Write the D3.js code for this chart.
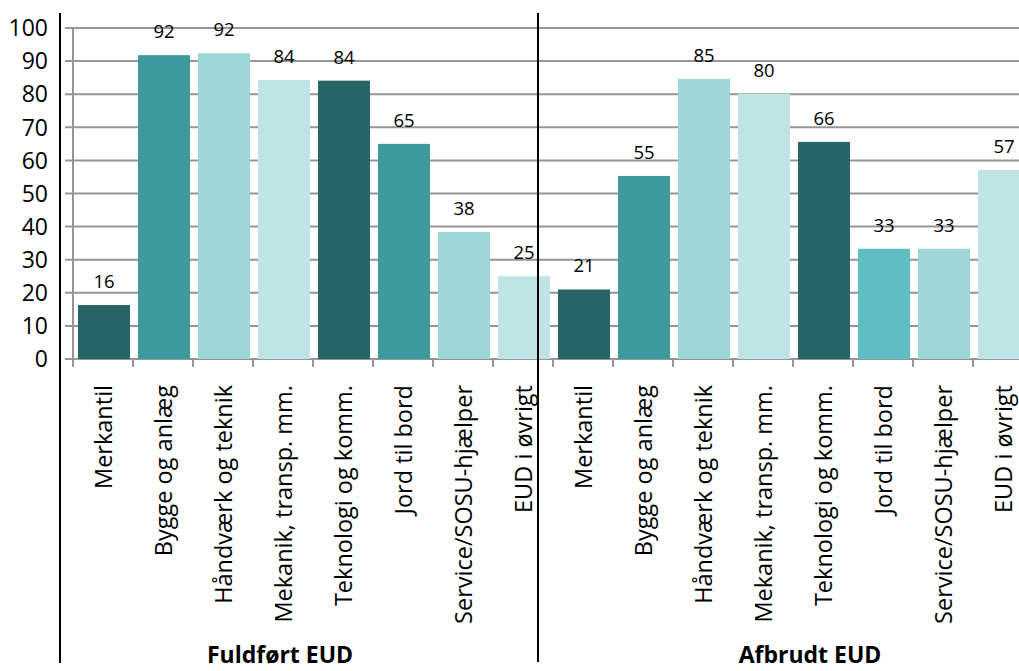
<!DOCTYPE html>
<html><head><meta charset="utf-8">
<script src="https://cdn.jsdelivr.net/npm/d3@7"></script>
<style>html,body{margin:0;padding:0;background:#fff;}svg{display:block;}</style>
</head><body>
<svg id="chart" width="1019" height="671"></svg>
<script>
const categories = ["Merkantil","Bygge og anlæg","Håndværk og teknik","Mekanik, transp. mm.","Teknologi og komm.","Jord til bord","Service/SOSU-hjælper","EUD i øvrigt"];
const groups = ["Fuldført EUD","Afbrudt EUD"];
const fuldfort = [16.3, 91.8, 92.4, 84.3, 84.1, 65.0, 38.4, 25.0];
const afbrudt  = [21.0, 55.3, 84.6, 80.1, 65.6, 33.3, 33.3, 57.1];
const yTicks = [0,10,20,30,40,50,60,70,80,90,100];

const colorsF = ["#286568","#3c999c","#9fd7d9","#bee4e5","#286568","#3c999c","#9fd7d9","#bee4e5"];
const colorsA = ["#286568","#3c999c","#9fd7d9","#bee4e5","#286568","#5fbdc4","#9fd7d9","#bee4e5"];

const data = [];
categories.forEach((c,i)=>data.push({key:"F"+i, cat:c, v:fuldfort[i], color:colorsF[i]}));
categories.forEach((c,i)=>data.push({key:"A"+i, cat:c, v:afbrudt[i], color:colorsA[i]}));

const svg = d3.select("#chart");
const x = d3.scaleBand().domain(data.map(d=>d.key)).range([73,1033]).paddingInner(8/60).paddingOuter(4/60);
const y = d3.scaleLinear().domain([0,100]).range([359,28]);

// gridlines
svg.append("g").selectAll("line").data(yTicks).join("line")
  .attr("x1",65).attr("x2",1019)
  .attr("y1",d=>y(d)).attr("y2",d=>y(d))
  .attr("stroke","#959595").attr("stroke-width",2);

// y labels
svg.append("g").selectAll("text").data(yTicks).join("text")
  .attr("x",48).attr("y",d=>y(d)).attr("dy","0.36em")
  .attr("text-anchor","end")
  .attr("font-family","Open Sans, sans-serif").attr("font-size",23).attr("fill","#000")
  .text(d=>d);

// bars
svg.append("g").selectAll("rect").data(data).join("rect")
  .attr("x",d=>x(d.key)+1).attr("width",x.bandwidth())
  .attr("y",d=>y(d.v)).attr("height",d=>y(0)-y(d.v))
  .attr("fill",d=>d.color);

// plot left axis line (grey)
svg.append("line").attr("x1",73).attr("x2",73).attr("y1",y(100)).attr("y2",367)
  .attr("stroke","#959595").attr("stroke-width",2);

// x tick marks at band boundaries
const bounds = data.map(d=>x(d.key) - x.step()*x.paddingInner()/2);
svg.append("g").selectAll("line").data(bounds.slice(1)).join("line")
  .attr("x1",d=>d).attr("x2",d=>d).attr("y1",359).attr("y2",367)
  .attr("stroke","#959595").attr("stroke-width",2);

// data labels
svg.append("g").selectAll("text").data(data).join("text")
  .attr("x",d=>x(d.key)+1+x.bandwidth()/2).attr("y",d=>y(d.v)-17)
  .attr("text-anchor","middle")
  .attr("font-family","Open Sans, sans-serif").attr("font-size",18.5).attr("fill","#000")
  .text(d=>d3.format(".0f")(d.v));

// category labels
svg.append("g").selectAll("text").data(data).join("text")
  .attr("transform",d=>`translate(${x(d.key)+1+x.bandwidth()/2},385) rotate(-90)`)
  .attr("text-anchor","end").attr("dy","0.36em")
  .attr("font-family","Open Sans, sans-serif").attr("font-size",23.5).attr("fill","#000")
  .text(d=>d.cat);

// black lines
svg.append("line").attr("x1",60).attr("x2",60).attr("y1",13).attr("y2",663).attr("stroke","#000").attr("stroke-width",2);
svg.append("line").attr("x1",538).attr("x2",538).attr("y1",13).attr("y2",662).attr("stroke","#000").attr("stroke-width",2);

// group labels
svg.append("g").selectAll("text").data(groups).join("text")
  .attr("x",(d,i)=>i===0?280:810).attr("y",663)
  .attr("text-anchor","middle")
  .attr("font-family","Open Sans, sans-serif").attr("font-weight","bold").attr("font-size",23).attr("fill","#000")
  .text(d=>d);
</script>
</body></html>
